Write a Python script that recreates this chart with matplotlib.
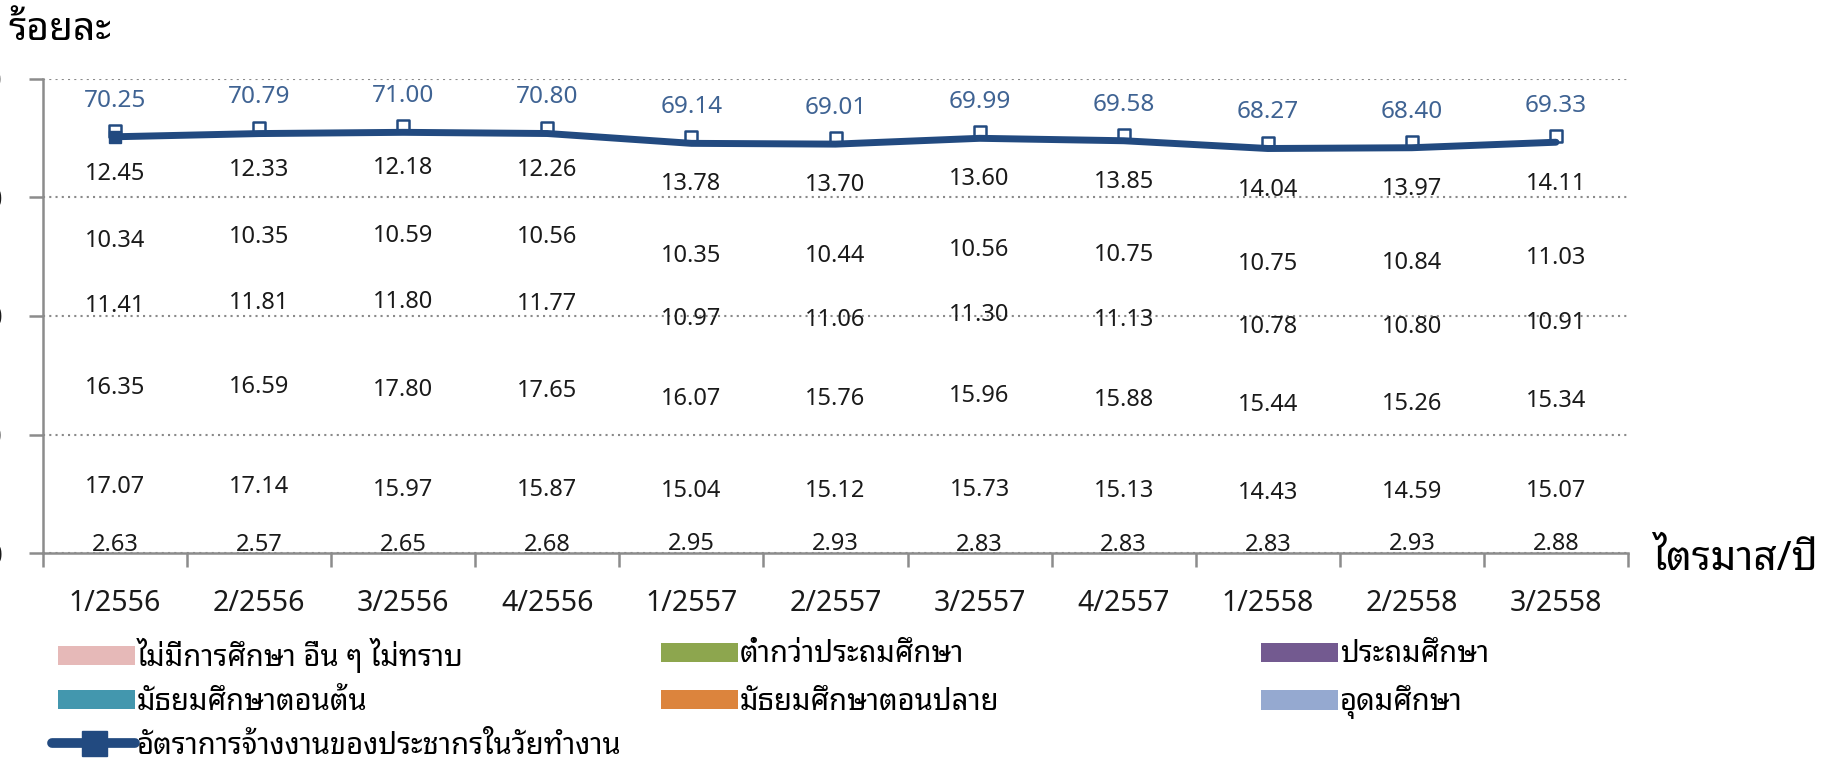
import matplotlib
matplotlib.use('Agg')
import matplotlib.pyplot as plt
import numpy as np
from matplotlib.patches import Patch
from matplotlib.lines import Line2D
from matplotlib.path import Path

plt.rcParams['font.family'] = ['Noto Sans Thai Looped', 'DejaVu Sans']

quarters = ['1/2556', '2/2556', '3/2556', '4/2556', '1/2557', '2/2557',
            '3/2557', '4/2557', '1/2558', '2/2558', '3/2558']

# stacked segments, bottom to top
no_edu = [2.63, 2.57, 2.65, 2.68, 2.95, 2.93, 2.83, 2.83, 2.83, 2.93, 2.88]
below_primary = [17.07, 17.14, 15.97, 15.87, 15.04, 15.12, 15.73, 15.13, 14.43, 14.59, 15.07]
primary = [16.35, 16.59, 17.80, 17.65, 16.07, 15.76, 15.96, 15.88, 15.44, 15.26, 15.34]
lower_sec = [11.41, 11.81, 11.80, 11.77, 10.97, 11.06, 11.30, 11.13, 10.78, 10.80, 10.91]
upper_sec = [10.34, 10.35, 10.59, 10.56, 10.35, 10.44, 10.56, 10.75, 10.75, 10.84, 11.03]
tertiary = [12.45, 12.33, 12.18, 12.26, 13.78, 13.70, 13.60, 13.85, 14.04, 13.97, 14.11]

emp_rate = [70.25, 70.79, 71.00, 70.80, 69.14, 69.01, 69.99, 69.58, 68.27, 68.40, 69.33]

series = [no_edu, below_primary, primary, lower_sec, upper_sec, tertiary]
names = ['ไม่มีการศึกษา อื่น ๆ ไม่ทราบ', 'ต่ำกว่าประถมศึกษา', 'ประถมศึกษา',
         'มัธยมศึกษาตอนต้น', 'มัธยมศึกษาตอนปลาย', 'อุดมศึกษา']
colors = ['#E6B9B8', '#8DA64E', '#735A90', '#4397AE', '#DC843D', '#95A9D0']
line_name = 'อัตราการจ้างงานของประชากรในวัยทำงาน'
line_color = '#224A80'
num_font = ['Noto Sans', 'DejaVu Sans']

W, H = 1827, 759
fig = plt.figure(figsize=(W / 100, H / 100), dpi=100)
ax = fig.add_axes([43 / W, 1 - 553 / H, (1628 - 43) / W, (553 - 79) / H])

x = np.arange(len(quarters))
bottom = np.zeros(len(quarters))
for vals in series:
    # bars are not filled in the original, only their labels show
    bc = ax.bar(x, vals, bottom=bottom, width=0.6, color='none', edgecolor='none')
    ax.bar_label(bc, labels=['%.2f' % v for v in vals], label_type='center',
                 fontsize=17, color='#1a1a1a', family=num_font)
    bottom += np.array(vals)

# square marker sitting on top of the line (its lower half is hidden by the line)
half_sq = Path([(-1, 0), (1, 0), (1, 2), (-1, 2), (-1, 0)],
               [Path.MOVETO, Path.LINETO, Path.LINETO, Path.LINETO, Path.CLOSEPOLY])
ax.plot(x, emp_rate, linestyle='none', marker=half_sq, ms=17, mfc='white',
        mec=line_color, mew=1.8, zorder=3)
ax.plot(x, emp_rate, color=line_color, lw=5, solid_capstyle='round', zorder=4)
ax.plot(x[:1], emp_rate[:1], 's', ms=8, color=line_color, zorder=5)
for xi, v in zip(x, emp_rate):
    ax.annotate('%.2f' % v, (xi, v), xytext=(0, 26), textcoords='offset points',
                ha='center', va='center', fontsize=17.5, color='#3F6393',
                family=num_font)

ax.set_xlim(-0.5, len(quarters) - 0.5)
ax.set_ylim(0, 80)
ax.set_yticks([0, 20, 40, 60, 80])
ax.yaxis.grid(True, color='#8a8a8a', linestyle=(0, (1, 2)), lw=1.5)
ax.set_axisbelow(True)

ax.set_xticks(x)
ax.set_xticklabels(quarters, fontsize=20.5, family=num_font)
ax.set_xticks(np.arange(-0.5, len(quarters)), minor=True)
ax.tick_params(axis='x', which='major', length=0, pad=26, colors='#1a1a1a')
ax.tick_params(axis='x', which='minor', length=10, width=1.8, color='#8c8c8c')
ax.tick_params(axis='y', length=10, width=1.8, color='#8c8c8c', pad=19,
               labelsize=20, labelcolor='#1a1a1a')

for s in ['top', 'right']:
    ax.spines[s].set_visible(False)
for s in ['left', 'bottom']:
    ax.spines[s].set_color('#8c8c8c')
    ax.spines[s].set_linewidth(1.8)

fig.text(8 / W, 1 - 30 / H, 'ร้อยละ', fontsize=28, ha='left', va='center')
fig.text(1652 / W, 1 - 560 / H, 'ไตรมาส/ปี', fontsize=29, ha='left', va='center')

# legend: one small legend per entry so the columns line up like the original
handles = [Patch(facecolor=c, edgecolor='none') for c in colors]
line_handle = Line2D([], [], color=line_color, lw=7, marker='s', ms=18,
                     solid_capstyle='round')
slots = [(58, 655), (661, 655), (1261, 655),
         (58, 702), (661, 702), (1261, 702)]
for h, name, (px, py) in zip(handles, names, slots):
    fig.legend([h], [name], loc='center left', bbox_to_anchor=(px / W, 1 - py / H),
               frameon=False, fontsize=21, borderpad=0, borderaxespad=0,
               handlelength=2.65, handleheight=0.65, handletextpad=0.05)
fig.legend([line_handle], [line_name], loc='center left', bbox_to_anchor=(52 / W, 1 - 746 / H),
           frameon=False, fontsize=21, borderpad=0, borderaxespad=0,
           handlelength=2.85, handletextpad=0.05)

fig.savefig('out.png', dpi=100)
